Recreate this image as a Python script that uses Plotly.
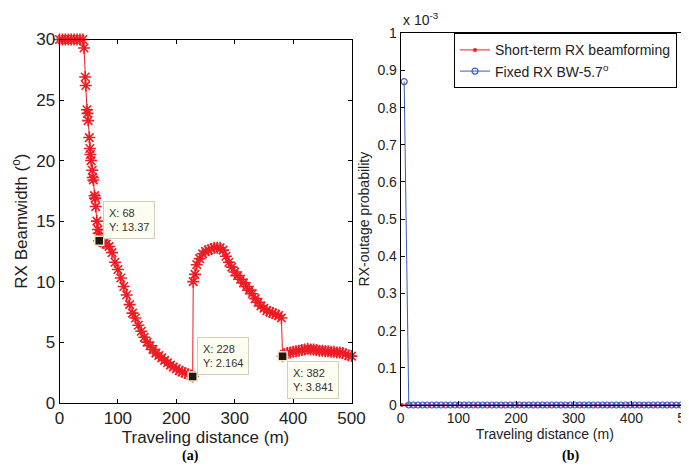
import plotly.graph_objects as go

# ---------------- data ----------------
# (a) RX beamwidth vs traveling distance
dist_a = [0, 5, 10, 15, 20, 25, 30, 35, 40,
          42, 44, 45, 47, 48, 49, 51, 52, 53, 54, 56, 57, 58, 60, 61, 62, 64, 66, 67, 68,
          70, 73, 76, 80, 85, 90, 95, 100, 105, 110, 115, 120, 125, 130, 135, 140, 145,
          150, 155, 160, 165, 170, 175, 180, 185, 190, 195, 200, 205, 210, 215, 220, 225, 228,
          229, 232, 235, 240, 245, 250, 255, 260, 265, 270, 275, 280, 285, 290, 295, 300,
          305, 310, 315, 320, 325, 330, 335, 340, 345, 350, 355, 360, 365, 370, 375, 380,
          382, 385, 390, 395, 400, 405, 410, 415, 420, 425, 430, 435, 440, 445, 450, 455,
          460, 465, 470, 475, 480, 485, 490, 495, 500]
beamwidth_a = [30, 30, 30, 30, 30, 30, 30, 30, 30,
               29.3, 26.9, 26.2, 24.2, 23.9, 23.3, 21.9, 21.0, 20.5, 20.0, 19.2, 18.6, 18.4, 17.1, 16.9, 16.2, 15.0, 14.3, 14.0, 13.37,
               13.6, 13.4, 13.2, 13.1, 12.9, 12.4, 11.6, 11.0, 10.3, 9.6, 8.9, 8.1, 7.4, 7.0, 6.4, 5.9, 5.4,
               5.0, 4.7, 4.4, 4.1, 3.9, 3.7, 3.5, 3.3, 3.1, 2.95, 2.8, 2.65, 2.55, 2.45, 2.35, 2.25, 2.164,
               10.0, 10.6, 11.4, 11.9, 12.3, 12.5, 12.6, 12.7, 12.8, 12.8, 12.8, 12.6, 12.1, 11.6, 11.2, 10.8,
               10.5, 10.2, 9.9, 9.6, 9.3, 9.0, 8.6, 8.3, 8.0, 7.8, 7.6, 7.5, 7.4, 7.3, 7.2, 7.0,
               3.841, 4.0, 4.1, 4.15, 4.2, 4.25, 4.3, 4.35, 4.4, 4.45, 4.4, 4.4, 4.35, 4.3, 4.3, 4.25,
               4.25, 4.2, 4.2, 4.15, 4.15, 4.1, 4.0, 3.9, 3.85]
tip_x = [68, 228, 382]
tip_y = [13.37, 2.164, 3.841]

# (b) RX-outage probability vs traveling distance
dist_short = list(range(2, 501, 8))
outage_short = [0.0] * len(dist_short)
dist_fixed = list(range(6, 501, 8))
outage_fixed = [0.87e-3] + [0.0] * (len(dist_fixed) - 1)

x_ticks = [0, 100, 200, 300, 400, 500]
ya_ticks = [0, 5, 10, 15, 20, 25, 30]
yb_ticks = [0, 0.1, 0.2, 0.3, 0.4, 0.5, 0.6, 0.7, 0.8, 0.9, 1]
yb_labels = ["0", "0.1", "0.2", "0.3", "0.4", "0.5", "0.6", "0.7", "0.8", "0.9", "1"]

RED = "rgb(237,28,36)"
BLUE = "rgb(60,90,190)"
OFF = 8                      # page body margin
W, H = 689 - OFF, 468 - OFF


def px(x):
    return (x - OFF) / W


def py(y):
    return 1 - (y - OFF) / H


fig = go.Figure()

fig.add_trace(go.Scatter(
    x=dist_a, y=beamwidth_a, mode="lines+markers",
    line=dict(color=RED, width=1),
    marker=dict(symbol="asterisk-open", size=10, line=dict(color=RED, width=1.6)),
    cliponaxis=False, showlegend=False, xaxis="x", yaxis="y"))

fig.add_trace(go.Scatter(
    x=tip_x, y=tip_y, mode="markers",
    marker=dict(symbol="square", size=9, color="#1a1a1a",
                line=dict(color="#f3eec0", width=1.5)),
    cliponaxis=False, showlegend=False, xaxis="x", yaxis="y"))

fig.add_trace(go.Scatter(
    x=dist_short, y=[v / 1e-3 for v in outage_short], mode="lines+markers",
    name="Short-term RX beamforming",
    line=dict(color=RED, width=1),
    marker=dict(symbol="circle", size=4, color=RED),
    cliponaxis=False, xaxis="x2", yaxis="y2"))

fig.add_trace(go.Scatter(
    x=dist_fixed, y=[v / 1e-3 for v in outage_fixed], mode="lines+markers",
    name="Fixed RX BW-5.7<sup>o</sup>",
    line=dict(color=BLUE, width=1),
    marker=dict(symbol="circle-open", size=6, color=BLUE, line=dict(width=1.2)),
    cliponaxis=False, xaxis="x2", yaxis="y2"))

axis_common = dict(showgrid=False, zeroline=False, showline=True, linecolor="black",
                   linewidth=1, mirror="ticks", ticks="inside", ticklen=4,
                   tickcolor="black", automargin=False)

fig.update_layout(
    width=W, height=H, margin=dict(l=0, r=0, t=0, b=0),
    paper_bgcolor="white", plot_bgcolor="white",
    font=dict(family="Liberation Sans, Arial, sans-serif", color="#222222"),
    xaxis=dict(domain=[px(59.5), px(351.5)], range=[0, 500], tickvals=x_ticks,
               tickfont=dict(size=17),
               title=dict(text="Traveling distance (m)", font=dict(size=17), standoff=2),
               anchor="y", **axis_common),
    yaxis=dict(domain=[py(402.7), py(39.5)], range=[0, 30], tickvals=ya_ticks,
               tickfont=dict(size=17),
               title=dict(text="RX Beamwidth (<sup>o</sup>)", font=dict(size=17), standoff=4),
               anchor="x", **axis_common),
    xaxis2=dict(domain=[px(400.7), 1.0], range=[0, 500], tickvals=x_ticks,
                tickfont=dict(size=14), ticklabeloverflow="allow",
                title=dict(text="Traveling distance (m)", font=dict(size=14), standoff=2),
                anchor="y2", **axis_common),
    yaxis2=dict(domain=[py(405), py(33.3)], range=[0, 1], tickvals=yb_ticks,
                ticktext=yb_labels, tickfont=dict(size=14),
                title=dict(text="RX-outage probability", font=dict(size=14), standoff=4),
                anchor="x2", **axis_common),
    legend=dict(x=px(454), y=py(33.3), xanchor="left", yanchor="top",
                bgcolor="white", bordercolor="black", borderwidth=1,
                font=dict(size=14, color="#222222"), tracegroupgap=0),
)

tip_box = dict(xref="paper", yref="paper", xanchor="left", yanchor="top",
               showarrow=False, align="left", bgcolor="#fdfdf0",
               bordercolor="#cfcfbf", borderwidth=1, borderpad=5,
               font=dict(size=11, color="#333333"))
fig.add_annotation(x=px(103.3), y=py(201), text="X: 68<br>Y: 13.37", **tip_box)
fig.add_annotation(x=px(196.7), y=py(336.7), text="X: 228<br>Y: 2.164", **tip_box)
fig.add_annotation(x=px(286.7), y=py(361), text="X: 382<br>Y: 3.841", **tip_box)

fig.add_annotation(x=px(401), y=py(8), xref="paper", yref="paper", xanchor="left",
                   yanchor="top", showarrow=False, text="x 10<sup>-3</sup>",
                   font=dict(size=14, color="#222222"))

label_font = dict(family="Liberation Serif, Times New Roman, serif", size=14, color="black")
fig.add_annotation(x=px(191), y=py(456), xref="paper", yref="paper", showarrow=False,
                   xanchor="center", yanchor="middle",
                   text="<b>(a)</b>", font=label_font)
fig.add_annotation(x=px(570), y=py(456), xref="paper", yref="paper", showarrow=False,
                   xanchor="center", yanchor="middle",
                   text="<b>(b)</b>", font=label_font)

fig.write_html("out.html")
